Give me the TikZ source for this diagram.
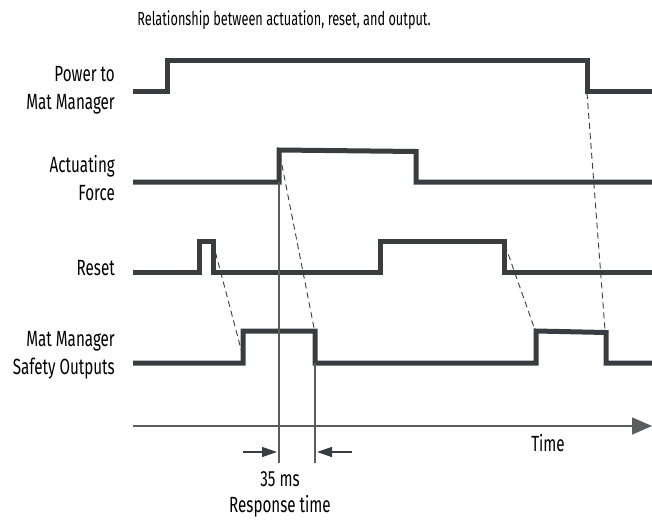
\documentclass[tikz,border=0pt]{standalone}
\usepackage{fontspec}
\setmainfont[FakeStretch=0.69]{Fira Sans}
\newfontfamily\titlefont[FakeStretch=0.67]{Fira Sans}
\usetikzlibrary{arrows.meta}
\definecolor{sig}{HTML}{3A3D3F}
\definecolor{thin}{HTML}{5A5C5E}
\begin{document}
\begin{tikzpicture}[x=1pt,y=-1pt,
  signal/.style={line width=5pt, draw=sig, line join=miter},
  guide/.style={line width=1.1pt, draw=thin},
  cause/.style={line width=0.9pt, draw=sig, dash pattern=on 6pt off 4pt},
  lbl/.style={font=\fontsize{22}{28}\selectfont, text=black, align=right, anchor=east, inner sep=0pt},
  txt/.style={font=\fontsize{22}{28}\selectfont, text=black, inner sep=0pt},
  marker/.style={line width=1.3pt, draw=sig, -{Triangle[length=15pt,width=10pt]}}]
\useasboundingbox (0,0) rectangle (652,519);

% title
\node[txt, font=\titlefont\fontsize{19}{22}\selectfont] (title) at (284,20) {Relationship between actuation, reset, and output.};

% labels
\node[lbl] (lpow) at (115,90) {Power to\\Mat Manager};
\node[lbl] (lact) at (115,178) {Actuating\\Force};
\node[lbl] (lres) at (115,268) {Reset};
\node[lbl] (lout) at (115,355) {Mat Manager\\Safety Outputs};

% key points
\coordinate (pFall) at (587,93);
\coordinate (aRiseTop) at (280,155);
\coordinate (aRiseBot) at (279,182);
\coordinate (r1Fall) at (213,243);
\coordinate (r2Fall) at (505,245);
\coordinate (o1Rise) at (242,353);
\coordinate (o1Fall) at (315,333);
\coordinate (o1FallBot) at (315,363);
\coordinate (o2Rise) at (535,330);
\coordinate (o2Fall) at (605,330);
\coordinate (g1End) at (279,463);
\coordinate (g2End) at (315,463);
\coordinate (axStart) at (133,426);
\coordinate (axEnd) at (652,426);
\coordinate (m1s) at (243,452);
\coordinate (m1e) at (277,452);
\coordinate (m2s) at (352,452);
\coordinate (m2e) at (317,452);

% signals
\draw[signal] (133,91) -- (167,91) -- (167,60) -- (587,60) -- (587,91) -- (652,91);
\draw[signal] (133,182) -- (279,182) -- (279,150) -- (416,151.5) -- (416,182) -- (652,182);
\draw[signal] (133,272) -- (199,272) -- (199,241) -- (213,241) -- (213,272) -- (380,272) -- (380,241) -- (504,241) -- (504,272) -- (652,272);
\draw[signal] (133,363) -- (243,363) -- (243,331) -- (315,331) -- (315,363) -- (536,363) -- (536,331) -- (606,332.5) -- (606,363) -- (652,363);

% cause lines
\draw[cause] (r1Fall) -- (o1Rise);
\draw[cause] (aRiseTop) -- (o1Fall);
\draw[cause] (r2Fall) -- (o2Rise);
\draw[cause] (pFall) -- (o2Fall);

% guides
\draw[guide] (aRiseBot) -- (g1End);
\draw[guide] (o1FallBot) -- (g2End);

% time axis
\draw[guide, line width=1.4pt, -{Triangle[length=20pt,width=17pt]}] (axStart) -- (axEnd);
\node[txt] (time) at (548,443) {Time};

% response markers
\draw[marker] (m1s) -- (m1e);
\draw[marker] (m2s) -- (m2e);
\node[txt] (ms) at (280,479) {35 ms};
\node[txt] (resp) at (280,506) {Response time};
\end{tikzpicture}
\end{document}
